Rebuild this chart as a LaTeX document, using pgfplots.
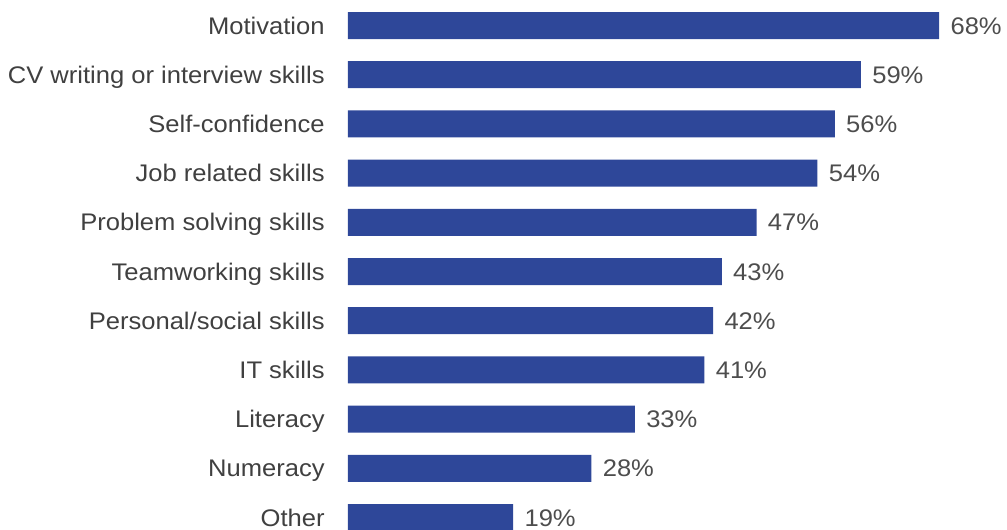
\documentclass[border=0pt]{standalone}
\usepackage{pgfplots}
\pgfplotsset{compat=1.18}
\usepackage{fontspec}
\setmainfont{Liberation Sans}[FakeStretch=1.065]
\definecolor{barblue}{HTML}{2E4799}
\definecolor{txt}{HTML}{404040}
\definecolor{numtxt}{HTML}{4D4D4D}
\begin{document}
\fontsize{12}{14}\selectfont
\begin{tikzpicture}
\clip (0,0) rectangle (503.5pt,265pt);
\begin{axis}[
  at={(174pt,264.55pt)}, anchor=north west,
  scale only axis,
  width=326pt, height=270.6pt,
  xbar, bar width=13.5pt,
  xmin=0, xmax=75,
  ymin=-0.5, ymax=10.5,
  y dir=reverse,
  axis line style={draw=none},
  xtick=\empty,
  ytick={0,...,10},
  yticklabels={Motivation,CV writing or interview skills,Self-confidence,Job related skills,Problem solving skills,Teamworking skills,Personal/social skills,IT skills,Literacy\hspace{3.3pt},Numeracy,Other},
  major tick length=0pt,
  /pgf/number format/assume math mode=true,
  yticklabel style={inner sep=0pt, xshift=-11.5pt, text=txt, text height=11pt, text depth=2.4pt, font=\fontsize{12}{14}\selectfont},
  clip=false,
  nodes near coords={\pgfmathprintnumber{\pgfplotspointmeta}\%},
  nodes near coords style={anchor=west, inner sep=0pt, xshift=5.5pt, text=numtxt, text height=11pt, text depth=2.4pt, font=\fontsize{12}{14}\selectfont},
]
\addplot[fill=barblue, draw=none] coordinates {
(68,0) (59,1) (56,2) (54,3) (47,4) (43,5) (42,6) (41,7) (33,8) (28,9) (19,10)};
\end{axis}
\end{tikzpicture}
\end{document}
